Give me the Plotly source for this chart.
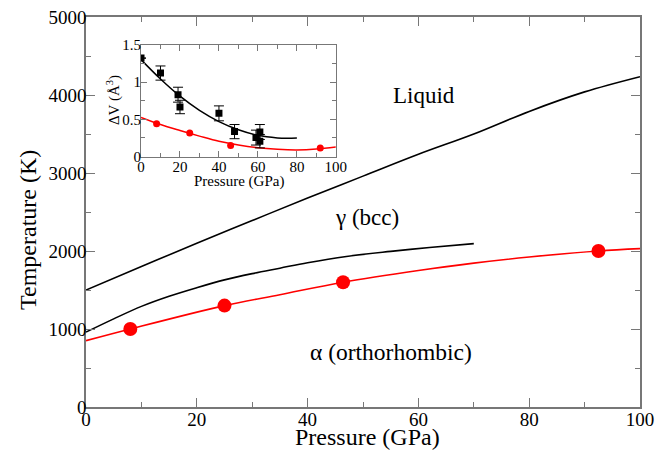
import plotly.graph_objects as go

# ---- main panel data ----
liq_p = [0, 10, 20, 30, 40, 50, 60, 70, 80, 90, 100]
liq_t = [1500, 1800, 2100, 2390, 2680, 2960, 3240, 3500, 3790, 4040, 4235]

gam_p = [0, 5, 10, 15, 20, 25, 30, 35, 40, 47, 55, 62, 70]
gam_t = [960, 1130, 1290, 1420, 1530, 1630, 1710, 1780, 1850, 1930, 1995, 2045, 2095]

red_p = [0, 8, 25, 35, 46.4, 60, 70, 80, 92.5, 100]
red_t = [850, 1000, 1300, 1440, 1600, 1750, 1845, 1923, 2000, 2030]

pts_p = [8, 25, 46.4, 92.5]
pts_t = [1000, 1300, 1600, 2000]

# ---- inset data ----
sq_p = [0, 10, 19, 20, 40, 48, 59, 61, 61]
sq_v = [1.32, 1.12, 0.83, 0.665, 0.58, 0.335, 0.255, 0.33, 0.207]
sq_err = [0, 0.095, 0.1, 0.09, 0.1, 0.095, 0.1, 0.1, 0.09]

bfit_p = [0, 10, 20, 30, 40, 50, 60, 70, 75, 80]
bfit_v = [1.30, 1.04, 0.81, 0.62, 0.47, 0.36, 0.285, 0.25, 0.245, 0.248]

rc_p = [8, 25, 46, 92]
rc_v = [0.44, 0.315, 0.148, 0.115]

rfit_p = [0, 10, 20, 30, 40, 50, 60, 70, 80, 90, 100]
rfit_v = [0.525, 0.43, 0.35, 0.275, 0.205, 0.155, 0.118, 0.098, 0.09, 0.102, 0.13]

FONT = "Liberation Serif, Times New Roman, serif"
AX = "#777777"

fig = go.Figure()
fig.add_trace(go.Scatter(x=liq_p, y=liq_t, mode="lines", line=dict(color="black", width=1.6, shape="spline")))
fig.add_trace(go.Scatter(x=gam_p, y=gam_t, mode="lines", line=dict(color="black", width=1.6, shape="spline")))
fig.add_trace(go.Scatter(x=red_p, y=red_t, mode="lines", line=dict(color="red", width=1.6, shape="spline")))
fig.add_trace(go.Scatter(x=pts_p, y=pts_t, mode="markers", marker=dict(color="red", size=14)))

# inset
fig.add_trace(go.Scatter(x=bfit_p, y=bfit_v, mode="lines", line=dict(color="black", width=1.5, shape="spline"),
                         xaxis="x2", yaxis="y2"))
fig.add_trace(go.Scatter(x=rfit_p, y=rfit_v, mode="lines", line=dict(color="red", width=1.5, shape="spline"),
                         xaxis="x2", yaxis="y2"))
fig.add_trace(go.Scatter(x=sq_p, y=sq_v, mode="markers",
                         marker=dict(color="black", size=7, symbol="square"),
                         error_y=dict(type="data", array=sq_err, color="black", thickness=1, width=5),
                         xaxis="x2", yaxis="y2"))
fig.add_trace(go.Scatter(x=rc_p, y=rc_v, mode="markers", marker=dict(color="red", size=7),
                         xaxis="x2", yaxis="y2"))

def ax(**kw):
    d = dict(showline=True, linecolor=AX, linewidth=1.5, mirror="ticks", ticks="inside",
             tickcolor=AX, showgrid=False, zeroline=False, automargin=False,
             ticklabeloverflow="allow",
             tickfont=dict(family=FONT, color="black"))
    d.update(kw)
    return d

# page body adds an 8px offset; margins compensate so the plot box sits at 86..640 x 17..407
fig.update_layout(
    width=669, height=450,
    margin=dict(l=78, r=37, t=9, b=51, autoexpand=False),
    paper_bgcolor="white", plot_bgcolor="white",
    showlegend=False,
    font=dict(family=FONT, color="black"),
    xaxis=ax(range=[0, 100], dtick=20, ticklen=9, tickwidth=1.2, ticklabelstandoff=-6,
             tickfont=dict(family=FONT, size=19, color="black"),
             minor=dict(dtick=10, ticks="inside", ticklen=5, tickcolor=AX)),
    yaxis=ax(range=[0, 5000], dtick=1000, ticklen=9, tickwidth=1.2, ticklabelstandoff=-6,
             tickfont=dict(family=FONT, size=19, color="black"),
             minor=dict(dtick=500, ticks="inside", ticklen=5, tickcolor=AX)),
    xaxis2=ax(domain=[0.0993, 0.451], anchor="y2", range=[0, 100], dtick=20, ticklen=6,
              linewidth=1.2, ticklabelstandoff=-4,
              tickfont=dict(family=FONT, size=15, color="black"),
              minor=dict(dtick=10, ticks="inside", ticklen=4, tickcolor=AX)),
    yaxis2=ax(domain=[0.642, 0.929], anchor="x2", range=[0, 1.5], tickvals=[0, 0.5, 1, 1.5],
              ticktext=["0", "0.5", "1", "1.5"], ticklen=6, linewidth=1.2, ticklabelstandoff=-4,
              tickfont=dict(family=FONT, size=15, color="black"),
              minor=dict(dtick=0.25, ticks="inside", ticklen=4, tickcolor=AX)),
    annotations=[
        dict(x=0.509, y=-0.077, xref="paper", yref="paper", text="Pressure (GPa)", showarrow=False,
             xanchor="center", yanchor="middle", font=dict(family=FONT, size=24, color="black")),
        dict(x=-0.1047, y=0.454, xref="paper", yref="paper", text="Temperature (K)", showarrow=False,
             textangle=-90, xanchor="center", yanchor="middle",
             font=dict(family=FONT, size=24, color="black")),
        dict(x=0.276, y=0.579, xref="paper", yref="paper", text="Pressure (GPa)", showarrow=False,
             xanchor="center", yanchor="middle", font=dict(family=FONT, size=15, color="black")),
        dict(x=0.0487, y=0.787, xref="paper", yref="paper", text="ΔV (Å<sup>3</sup>)", showarrow=False,
             textangle=-90, xanchor="center", yanchor="middle",
             font=dict(family=FONT, size=15, color="black")),
        dict(x=61, y=3990, xref="x", yref="y", text="Liquid", showarrow=False,
             font=dict(family=FONT, size=23, color="black")),
        dict(x=50.7, y=2430, xref="x", yref="y", text="γ (bcc)", showarrow=False,
             font=dict(family=FONT, size=23, color="black")),
        dict(x=55, y=700, xref="x", yref="y", text="α (orthorhombic)", showarrow=False,
             font=dict(family=FONT, size=23.5, color="black")),
    ],
)

fig.write_html("out.html")
